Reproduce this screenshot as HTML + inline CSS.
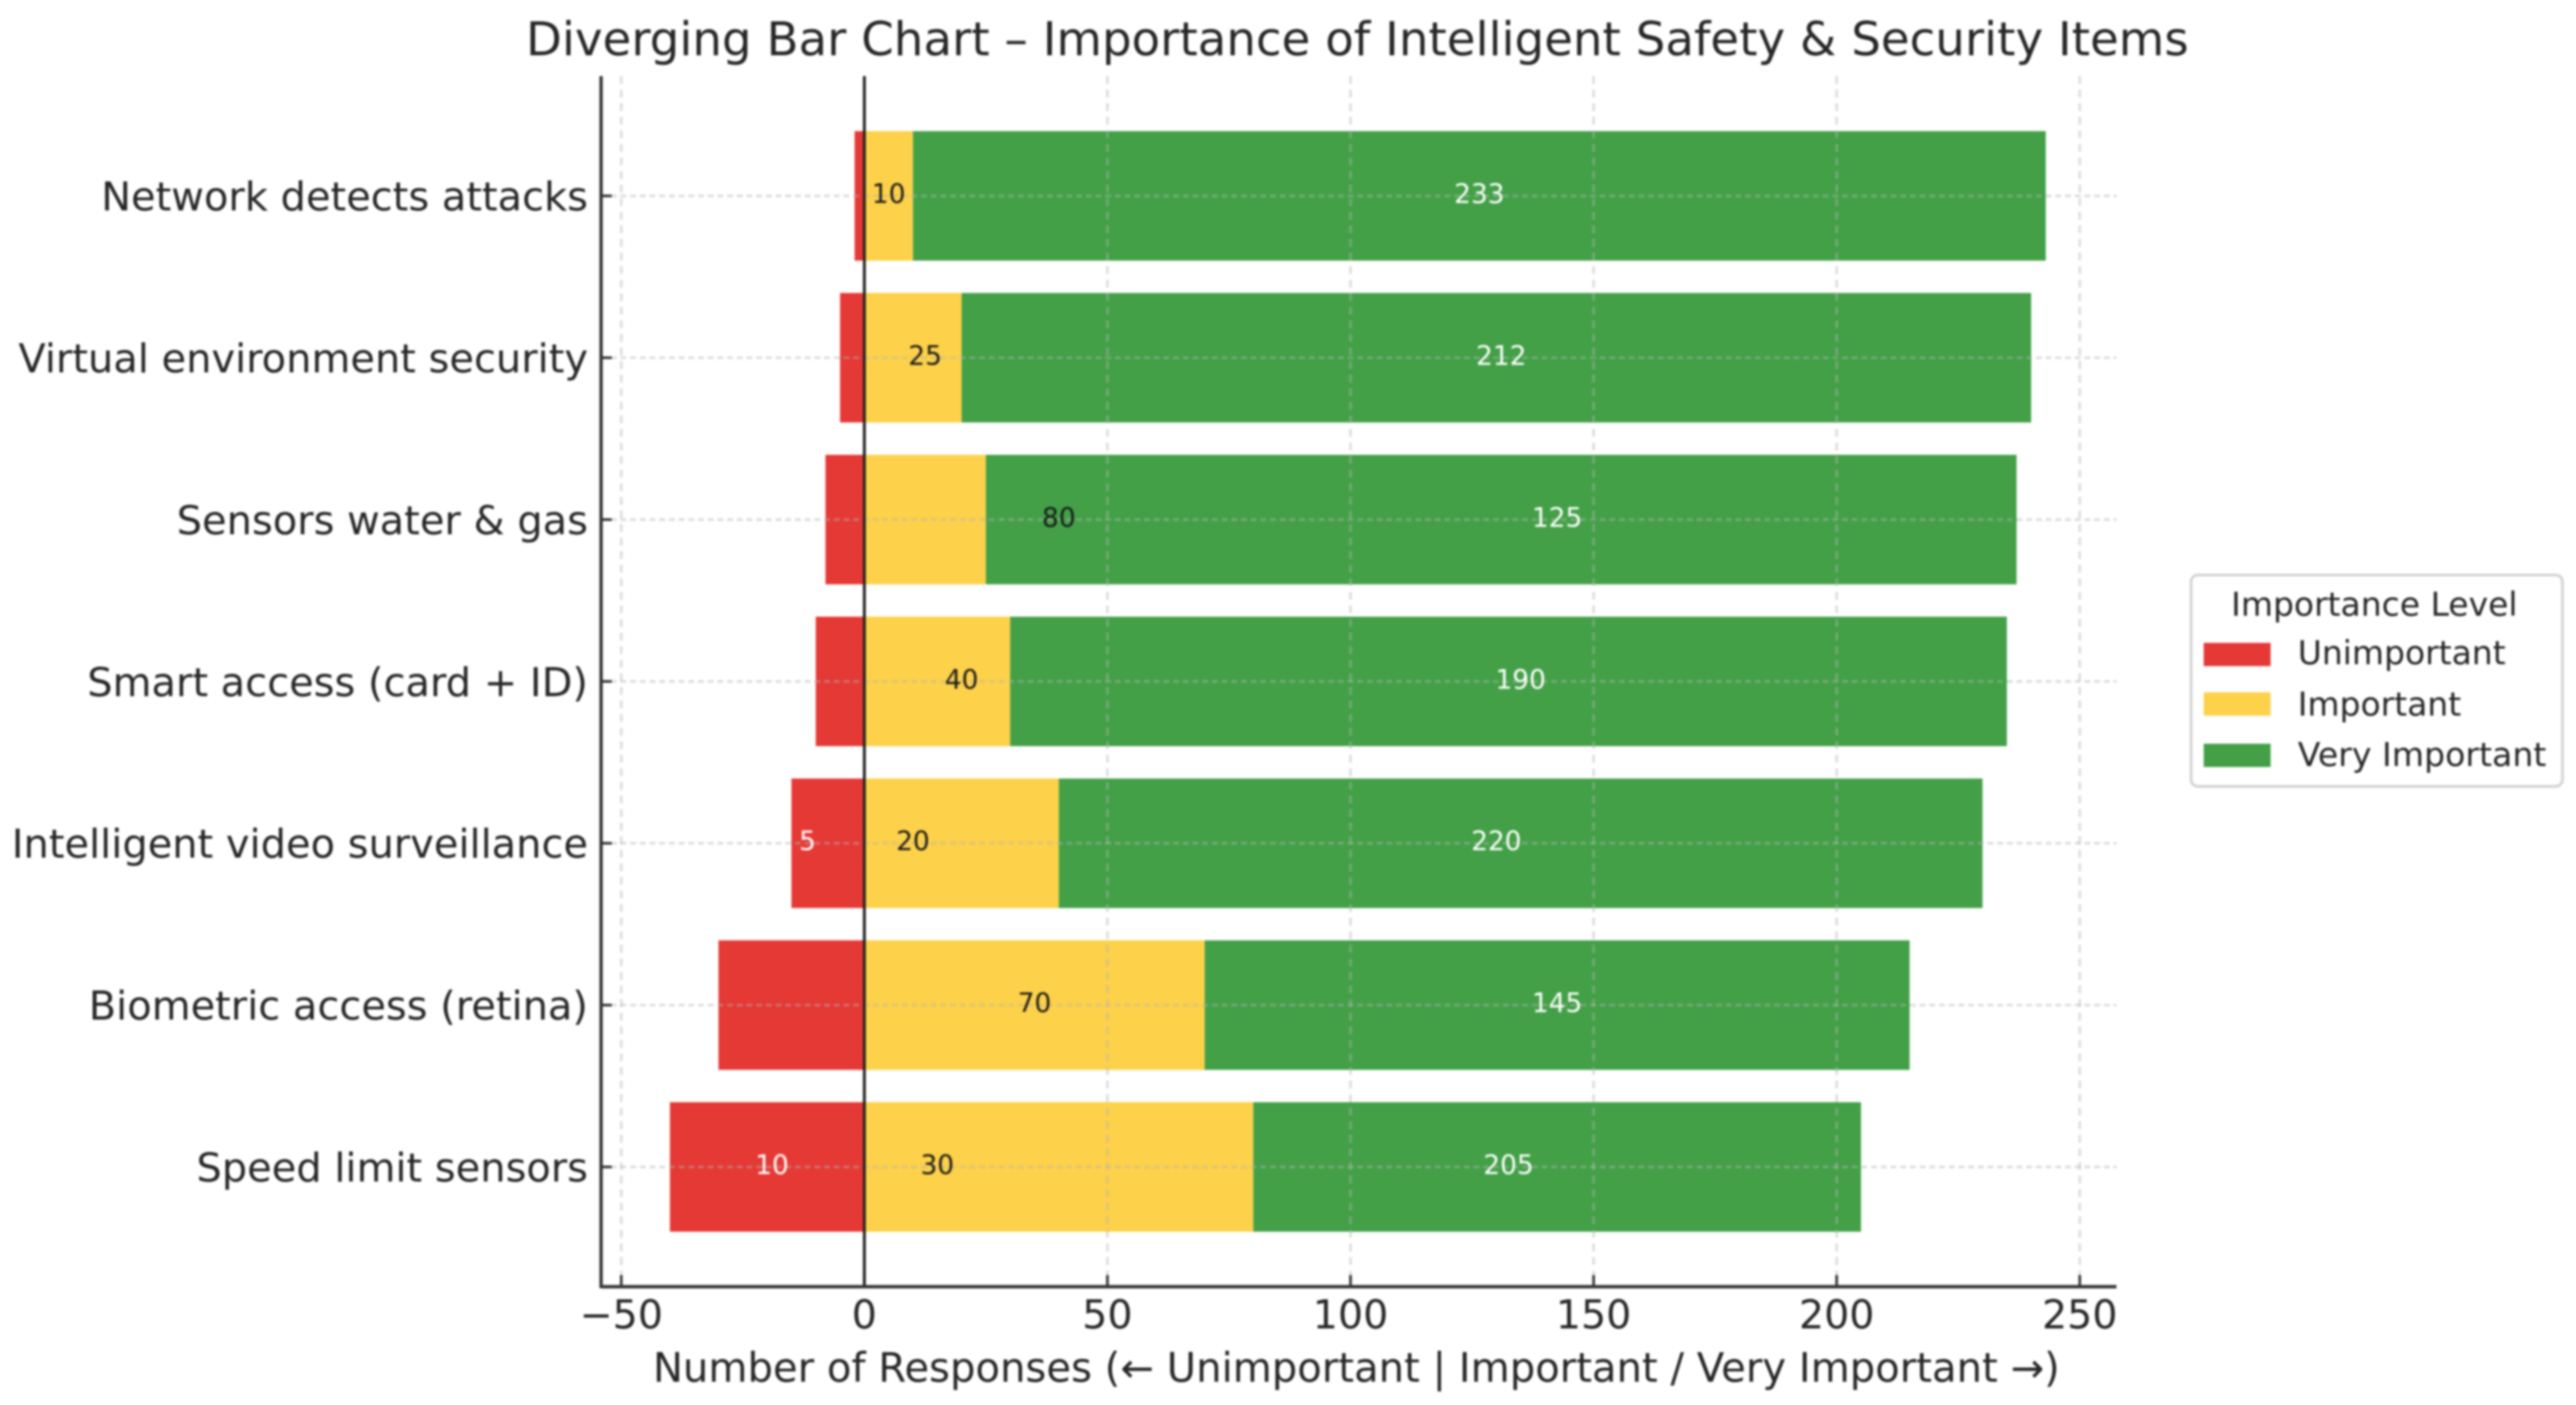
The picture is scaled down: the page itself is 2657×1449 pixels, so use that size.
<!DOCTYPE html>
<html lang="en">
<head>
<meta charset="utf-8">
<title>Diverging Bar Chart</title>
<style>
html,body{margin:0;padding:0;background:#fff;width:2657px;height:1449px;overflow:hidden}
svg{display:block;filter:blur(1.1px)}
text{font-family:"DejaVu Sans","Liberation Sans",sans-serif;fill:#262626}
</style>
</head>
<body>
<svg id="chart" xmlns="http://www.w3.org/2000/svg" width="2657" height="1449" viewBox="0 0 2657 1449">
  <rect x="0" y="0" width="2657" height="1449" fill="#ffffff"/>
  <g id="bars"></g>
  <g id="grid"></g>
  <g id="values"></g>
  <g id="axes"></g>
  <text x="1400" y="57" text-anchor="middle" font-size="48.2">Diverging Bar Chart – Importance of Intelligent Safety &amp; Security Items</text>
  <text x="1399" y="1425" text-anchor="middle" font-size="41.4">Number of Responses (← Unimportant | Important / Very Important →)</text>
  <g>
    <rect x="2260" y="593" width="383" height="218" rx="7" fill="#ffffff" stroke="#d4d4d4" stroke-width="3"/>
    <text x="2449" y="635" text-anchor="middle" font-size="34">Importance Level</text>
    <rect x="2273" y="663" width="69" height="24" fill="#E53935"/>
    <text x="2370" y="685" font-size="34">Unimportant</text>
    <rect x="2273" y="714" width="69" height="24" fill="#FDD149"/>
    <text x="2370" y="738" font-size="34">Important</text>
    <rect x="2273" y="767" width="69" height="24" fill="#43A047"/>
    <text x="2370" y="790" font-size="34.2">Very Important</text>
  </g>
</svg>
<script>
const categories = ["Network detects attacks", "Virtual environment security", "Sensors water & gas", "Smart access (card + ID)", "Intelligent video surveillance", "Biometric access (retina)", "Speed limit sensors"];
const unimportantValues = [2, 5, 8, 10, 15, 30, 40];
const importantValues = [10, 20, 25, 30, 40, 70, 80];
const veryImportantValues = [233, 220, 212, 205, 190, 145, 125];
const unimportantPrinted = [null, null, null, null, 5, null, 10];
const unimportantPrintedAt = [null, null, null, null, -11.7, null, -19];
const importantPrinted = [10, 25, 80, 40, 20, 70, 30];
const veryImportantPrinted = [233, 212, 125, 190, 220, 145, 205];
const xTicks = [-50, 0, 50, 100, 150, 200, 250];

const NS = 'http://www.w3.org/2000/svg';
const plot = {left: 620, right: 2181, top: 78.5, bottom: 1327};
const domainMin = -54.15, domainMax = 257.15;
const barBand = 0.8;
const pad = 0.74;
const axisEndX = 2183;

function xScale(v) {
  return plot.left + (v - domainMin) / (domainMax - domainMin) * (plot.right - plot.left);
}
function yScale(i) {
  const span = categories.length - 1 + 2 * pad;
  return plot.top + (i + pad) / span * (plot.bottom - plot.top);
}
function bandHeight() {
  return yScale(barBand) - yScale(0);
}
function make(tag, props, parent) {
  const el = document.createElementNS(NS, tag);
  for (const k in props) el.setAttribute(k, props[k]);
  parent.appendChild(el);
  return el;
}

const barsLayer = document.getElementById('bars');
const gridLayer = document.getElementById('grid');
const valuesLayer = document.getElementById('values');
const axesLayer = document.getElementById('axes');

categories.forEach(function (name, i) {
  const top = yScale(i) - bandHeight() / 2;
  const h = bandHeight();

  const red = make('rect', {x: xScale(-unimportantValues[i]), y: top, width: xScale(0) - xScale(-unimportantValues[i]), height: h, fill: '#E53935'}, barsLayer);
  
  

  const yellow = make('rect', {x: xScale(0), y: top, width: xScale(importantValues[i]) - xScale(0), height: h, fill: '#FDD149'}, barsLayer);
  
  

  const green = make('rect', {x: xScale(importantValues[i]), y: top, width: xScale(importantValues[i] + veryImportantValues[i]) - xScale(importantValues[i]), height: h, fill: '#43A047'}, barsLayer);
  
  

  const hGrid = make('line', {x1: plot.left, x2: axisEndX, y1: yScale(i), y2: yScale(i), stroke: '#b4b4b4', 'stroke-opacity': 0.45, 'stroke-width': 2.7, 'stroke-dasharray': '6 4'}, gridLayer);
  
  

  const yTick = make('line', {x1: plot.left, x2: plot.left + 11, y1: yScale(i), y2: yScale(i), stroke: '#333', 'stroke-width': 2.7}, axesLayer);
  
  

  const yLabel = make('text', {x: 606.5, y: yScale(i) + 15, 'text-anchor': 'end', 'font-size': 41.2}, axesLayer);
  yLabel.textContent = name;
  
  

  if (unimportantPrinted[i] !== null) {
    const redLabel = make('text', {x: xScale(unimportantPrintedAt[i]), y: yScale(i) + 7, 'text-anchor': 'middle', 'font-size': 27.2, style: 'fill:#ffffff'}, valuesLayer);
    redLabel.textContent = unimportantPrinted[i];
    
    
  }

  const yellowLabel = make('text', {x: xScale(importantPrinted[i] / 2), y: yScale(i) + 7, 'text-anchor': 'middle', 'font-size': 27.2, style: 'fill:#1a1a1a'}, valuesLayer);
  yellowLabel.textContent = importantPrinted[i];
  
  

  const greenLabel = make('text', {x: xScale(importantPrinted[i] + veryImportantPrinted[i] / 2), y: yScale(i) + 7, 'text-anchor': 'middle', 'font-size': 27.2, style: 'fill:#ffffff'}, valuesLayer);
  greenLabel.textContent = veryImportantPrinted[i];
  
  
});

xTicks.forEach(function (t) {
  const vGrid = make('line', {x1: xScale(t), x2: xScale(t), y1: plot.top, y2: plot.bottom, stroke: '#b4b4b4', 'stroke-opacity': 0.45, 'stroke-width': 2.7, 'stroke-dasharray': '8 6'}, gridLayer);
  
  

  const xTick = make('line', {x1: xScale(t), x2: xScale(t), y1: plot.bottom, y2: plot.bottom - 12, stroke: '#333', 'stroke-width': 2.7}, axesLayer);
  
  

  const xLabel = make('text', {x: xScale(t), y: 1370, 'text-anchor': 'middle', 'font-size': 40.8}, axesLayer);
  xLabel.textContent = String(t).replace('-', '\u2212');
  
  
});

const zeroLine = make('line', {x1: xScale(0), x2: xScale(0), y1: plot.top, y2: plot.bottom, stroke: '#222', 'stroke-width': 3}, axesLayer);



const leftSpine = make('line', {x1: plot.left, x2: plot.left, y1: plot.top, y2: plot.bottom + 1.5, stroke: '#333', 'stroke-width': 3.4}, axesLayer);



const bottomSpine = make('line', {x1: plot.left, x2: axisEndX, y1: plot.bottom, y2: plot.bottom, stroke: '#333', 'stroke-width': 3.4}, axesLayer);


</script>
</body>
</html>
